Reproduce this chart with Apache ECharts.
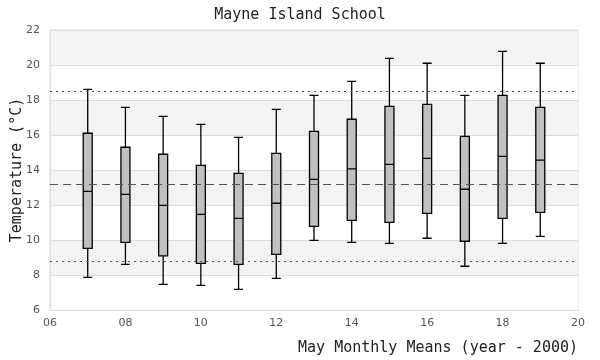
<!DOCTYPE html>
<html><head><meta charset="utf-8">
<script src="https://cdn.jsdelivr.net/npm/echarts@6/dist/echarts.min.js"></script>
<style>html,body{margin:0;padding:0;background:#fff}#c{width:600px;height:360px}</style>
</head><body><div id="c"></div>
<script>
var categories = ['06','07','08','09','10','11','12','13','14','15','16','17','18','19','20'];
var years = ['07','08','09','10','11','12','13','14','15','16','17','18','19'];
var mins = [7.87, 8.61, 7.47, 7.41, 7.18, 7.81, 9.98, 9.87, 9.81, 10.10, 8.50, 9.81, 10.21];
var q1s  = [9.52, 9.87, 9.09, 8.67, 8.61, 9.18, 10.78, 11.12, 11.01, 11.52, 9.93, 11.24, 11.58];
var meds = [12.78, 12.61, 11.98, 11.47, 11.24, 12.10, 13.47, 14.06, 14.32, 14.67, 12.90, 14.78, 14.57];
var q3s  = [16.10, 15.30, 14.90, 14.27, 13.81, 14.95, 16.21, 16.90, 17.64, 17.75, 15.92, 18.27, 17.58];
var maxs = [18.61, 17.58, 17.07, 16.61, 15.87, 17.47, 18.27, 19.07, 20.38, 20.10, 18.27, 20.78, 20.10];
var refUpper = 18.5, refMean = 13.2, refLower = 8.8;
var yTicks = {min: 6, max: 22, interval: 2};

var boxData = categories.map(function(c){
  var i = years.indexOf(c);
  if (i < 0) return '-';
  return [mins[i], q1s[i], meds[i], q3s[i], maxs[i]];
});
var mono = 'DejaVu Sans Mono';
var chart = echarts.init(document.getElementById('c'), null, {renderer:'canvas'});
chart.setOption({
  animation: false,
  title: {text: 'Mayne Island School', left: 'center', top: 3,
    textStyle: {fontFamily: mono, fontSize: 15, fontWeight: 'normal', color: '#222'}},
  grid: {left: 50, right: 22, top: 30, bottom: 50, show: true, borderColor: '#ddd', borderWidth: 1,
    outerBoundsMode: 'none', containLabel: false},
  xAxis: {type: 'category', data: categories, boundaryGap: false,
    name: 'May Monthly Means (year - 2000)', nameLocation: 'end',
    nameGap: 0, nameMoveOverlap: false,
    nameTextStyle: {fontFamily: mono, fontSize: 15, color: '#222', align: 'right', verticalAlign: 'top', padding: [31, 0, 0, 0]},
    axisLine: {lineStyle: {color: '#ddd'}}, axisTick: {show: false},
    axisLabel: {interval: 1, color: '#555', fontSize: 11, fontFamily: 'DejaVu Sans', margin: 8},
    splitLine: {show: false}},
  yAxis: {type: 'value', min: yTicks.min, max: yTicks.max, interval: yTicks.interval,
    name: 'Temperature (°C)', nameLocation: 'middle', nameGap: 25, nameMoveOverlap: false,
    nameTextStyle: {fontFamily: mono, fontSize: 15, color: '#222'},
    axisLine: {show: true, lineStyle: {color: '#ddd'}}, axisTick: {show: false},
    axisLabel: {color: '#555', fontSize: 11, fontFamily: 'DejaVu Sans', margin: 10},
    splitLine: {show: true, lineStyle: {color: '#ddd', width: 1}},
    splitArea: {show: true, areaStyle: {color: ['#ffffff', '#f3f3f3']}}},
  series: [{
    type: 'boxplot', data: boxData, boxWidth: [9, 9],
    itemStyle: {color: '#c0c0c0', borderColor: '#000', borderWidth: 1.3},
    markLine: {silent: true, symbol: 'none', label: {show: false},
      data: [
        {yAxis: refUpper, lineStyle: {type: [2, 4], color: '#555', width: 1}},
        {yAxis: refMean, lineStyle: {type: [8, 5], color: '#555', width: 1}},
        {yAxis: refLower, lineStyle: {type: [2, 4], color: '#555', width: 1}}
      ]}
  }]
});
</script></body></html>
